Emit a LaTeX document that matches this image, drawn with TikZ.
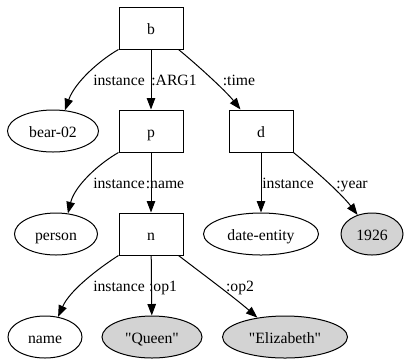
\documentclass[tikz,border=0pt]{standalone}
\usepackage{fontspec}
\newfontfamily\gvfont{Liberation Serif}
\usetikzlibrary{shapes.geometric,arrows.meta}
\definecolor{constfill}{HTML}{D3D3D3}
\begin{document}
\begin{tikzpicture}[x=1pt,y=-1pt,
  every node/.style={font=\gvfont\fontsize{15.7}{18}\selectfont, text height=12pt, text depth=0pt},
  varbox/.style={draw, line width=1pt, rectangle, minimum width=64pt, minimum height=42pt, inner sep=0pt},
  concept/.style={draw, line width=1pt, ellipse, minimum height=42pt, inner sep=0pt},
  constant/.style={concept, fill=constfill},
  lbl/.style={inner sep=0pt},
  edge/.style={draw, line width=1pt, -{Triangle[length=11.5pt,width=8.5pt]}}
]
\useasboundingbox (0,0) rectangle (406,360);

% nodes
\node[varbox] (b) at (151,28) {b};
\node[concept, minimum width=91pt] (bear) at (53,131) {bear-02};
\node[varbox] (p) at (151,131) {p};
\node[varbox] (d) at (261,131) {d};
\node[concept, minimum width=83pt] (person) at (56,234) {person};
\node[varbox] (n) at (151,234) {n};
\node[concept, minimum width=115pt] (date) at (261,234) {date-entity};
\node[constant, minimum width=62pt] (year) at (372,234) {1926};
\node[concept, minimum width=74pt] (nname) at (45,337) {name};
\node[constant, minimum width=100pt] (queen) at (152,337) {"Queen"};
\node[constant, minimum width=125pt] (eliz) at (285,337) {"Elizabeth"};

% edges
\draw[edge] (b.south west) .. controls (100,60) and (75,82) .. (bear.60);
\draw[edge] (b) -- (p);
\draw[edge] ([xshift=-5pt]b.south east) .. controls (195,63) and (225,90) .. ([xshift=12pt]d.north west);
\draw[edge] (p.south west) .. controls (100,163) and (75,185) .. (person.60);
\draw[edge] (p) -- (n);
\draw[edge] (d) -- (date);
\draw[edge] (d.south east) .. controls (310,166) and (340,192) .. (year.127);
\draw[edge] (n.south west) .. controls (99,268) and (70,290) .. (nname.57);
\draw[edge] (n) -- (queen);
\draw[edge] ([xshift=-5pt]n.south east) .. controls (200,272) and (235,298) .. (eliz.145);

% edge labels
\node[lbl] (l1) at (119,79) {instance};
\node[lbl] (l2) at (174,79) {:ARG1};
\node[lbl] (l3) at (239,79) {:time};
\node[lbl] (l4) at (119,182) {instance};
\node[lbl] (l5) at (165,182) {:name};
\node[lbl] (l6) at (288,182) {instance};
\node[lbl] (l7) at (352,182) {:year};
\node[lbl] (l8) at (119,285) {instance};
\node[lbl] (l9) at (163,285) {:op1};
\node[lbl] (l10) at (240,285) {:op2};
\end{tikzpicture}
\end{document}
